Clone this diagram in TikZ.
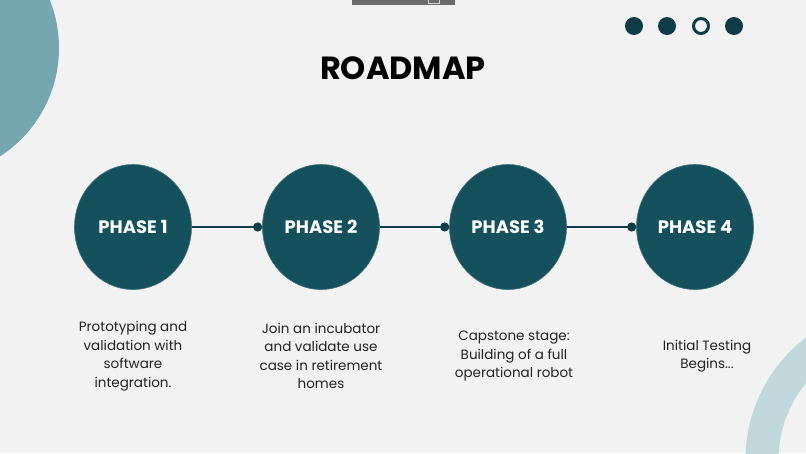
\documentclass[tikz,border=0pt]{standalone}
\usepackage{fontspec}
\setmainfont{Poppins}
\usetikzlibrary{shapes.geometric,arrows.meta}
\definecolor{bgcol}{HTML}{F2F2F2}
\definecolor{phasecol}{HTML}{15505D}
\definecolor{darkteal}{HTML}{0F3D47}
\definecolor{bluecirc}{HTML}{74A7B0}
\definecolor{paleblue}{HTML}{C0D7DC}
\definecolor{bargray}{HTML}{6B6B6B}
\definecolor{textcol}{HTML}{222222}
\begin{document}
\begin{tikzpicture}[x=1pt, y=-1pt,
  phase/.style={ellipse, fill=phasecol, draw=phasecol!80!white, line width=0.6pt, minimum width=117pt, minimum height=125pt, inner sep=0pt, text=white, font=\fontsize{18}{20}\selectfont\bfseries},
  desc/.style={align=center, text=textcol, font=\fontsize{13.5}{18.5}\selectfont},
  link/.style={draw=darkteal, line width=2.5pt, -{Circle[length=9pt,width=9pt]}},
  dot/.style={circle, fill=darkteal, minimum size=18pt, inner sep=0pt}]
% background and decoration
\fill[bgcol] (0,0) rectangle (806,453);
\useasboundingbox (0,0) rectangle (806,453);
\begin{scope}
\clip (0,0) rectangle (806,453);
\fill[bluecirc] (-70,48) circle (129);
\draw[paleblue, line width=33pt] (900,460) circle (138);
\end{scope}
\fill[bargray] (352,0) rectangle (455,5);
\draw[white!70!bargray, line width=0.6pt] (428,-1) rectangle (439,3);
% title and page dots
\node[font=\fontsize{32}{36}\selectfont\bfseries, text=black] (title) at (403,68) {ROADMAP};
\node[dot] (d1) at (634,26) {};
\node[dot] (d2) at (667,26) {};
\node[circle, draw=darkteal, line width=3pt, minimum size=15pt, inner sep=0pt] (d3) at (701,26) {};
\node[dot] (d4) at (734,26) {};
% phases
\node[phase] (p1) at (133,227) {PHASE 1};
\node[phase] (p2) at (321,227) {PHASE 2};
\node[phase] (p3) at (508,227) {PHASE 3};
\node[phase] (p4) at (695,227) {PHASE 4};
\draw[link] (p1.east) -- (p2.west);
\draw[link] (p2.east) -- (p3.west);
\draw[link] (p3.east) -- (p4.west);
% descriptions
\node[desc] (t1) at (133,356) {Prototyping and\\validation with\\software\\integration.};
\node[desc] (t2) at (321,356) {Join an incubator\\and validate use\\case in retirement\\homes};
\node[desc] (t3) at (514,356) {Capstone stage:\\Building of a full\\operational robot};
\node[desc] (t4) at (707,356) {Initial Testing\\Begins...};
\end{tikzpicture}
\end{document}
